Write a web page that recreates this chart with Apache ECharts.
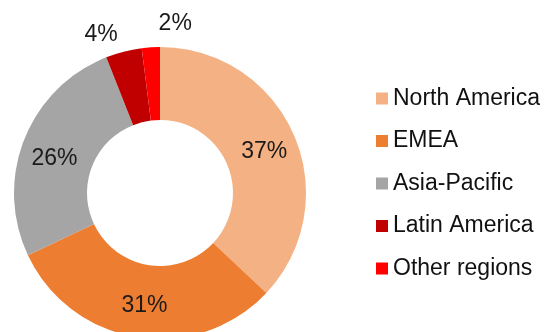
<!DOCTYPE html>
<html>
<head>
<meta charset="utf-8">
<script src="https://cdn.jsdelivr.net/npm/echarts@6/dist/echarts.min.js"></script>
<style>
  html, body { margin: 0; padding: 0; background: #fff; }
  #chart { width: 547px; height: 332px; }
</style>
</head>
<body>
<div id="chart"></div>
<script>
// Revenue share by region (%)
const regions = ['North America', 'EMEA', 'Asia-Pacific', 'Latin America', 'Other regions'];
const shares = [37, 31, 26, 4, 2];
const sliceColors = ['#F4B183', '#ED7D31', '#A5A5A5', '#C00000', '#FF0000'];
// small slices carry their label outside the ring
const outsideLabel = [false, false, false, true, true];
// small nudges for the labels (outside ones sit above the ring)
const labelNudge = [[1, 3], [2, 2], [-1, 7], [-1, -17], [46, -24]];

const FONT = '"Liberation Sans", Arial, sans-serif';

const chart = echarts.init(document.getElementById('chart'), null, { renderer: 'canvas' });

const data = regions.map((name, i) => ({
  name,
  value: shares[i],
  itemStyle: { color: sliceColors[i] },
  label: {
    position: outsideLabel[i] ? 'outside' : 'inside'
  },
  labelLine: { show: false }
}));

chart.setOption({
  animation: false,
  legend: {
    orient: 'vertical',
    left: 371,
    top: 82,
    icon: 'rect',
    itemWidth: 12,
    itemHeight: 12,
    itemGap: 19.5,
    textStyle: {
      fontFamily: FONT,
      fontSize: 23,
      lineHeight: 23,
      color: '#111'
    },
    data: regions
  },
  series: [{
    type: 'pie',
    center: [160, 193],
    radius: [73, 146],
    startAngle: 90,
    clockwise: true,
    avoidLabelOverlap: false,
    label: {
      show: true,
      formatter: '{c}%',
      fontFamily: FONT,
      fontSize: 23,
      color: '#1a1a1a'
    },
    labelLine: { show: false, length: 0, length2: 0 },
    labelLayout: function (params) {
      const n = labelNudge[params.dataIndex];
      return { dx: n[0], dy: n[1] };
    },
    emphasis: { disabled: true },
    data
  }]
});
</script>
</body>
</html>
